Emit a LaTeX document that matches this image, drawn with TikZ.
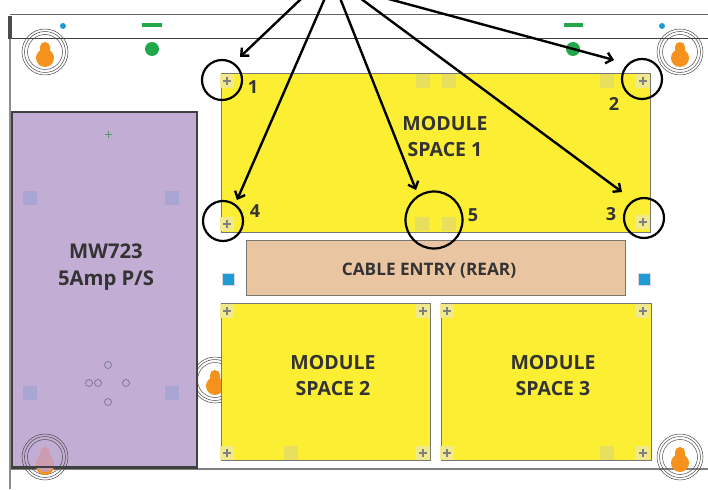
\documentclass[tikz,border=0pt]{standalone}
\usepackage{fontspec}
\setmainfont{Open Sans}
\usetikzlibrary{arrows.meta}
\definecolor{yel}{HTML}{FCEE33}
\definecolor{yelsq}{HTML}{E9DF5E}
\definecolor{purp}{HTML}{C2ADD4}
\definecolor{purpsq}{HTML}{A9A6D3}
\definecolor{peach}{HTML}{EAC5A2}
\definecolor{orng}{HTML}{F5921E}
\definecolor{pinkhole}{HTML}{CC9DB0}
\definecolor{grn}{HTML}{22A84A}
\definecolor{blu}{HTML}{1F9AD6}
\definecolor{edge}{HTML}{77776F}
\definecolor{txt}{HTML}{333333}
\tikzset{
  x=1pt,y=-1pt,
  module/.style={fill=yel,draw=edge,line width=1.3pt},
  ysq/.style={fill=yelsq,draw=none},
  psq/.style={fill=purpsq,draw=none},
  ring/.style={draw=black!70,line width=.5pt,fill=none},
  mark circle/.style={circle,draw=black,line width=2.2pt,fill=none,inner sep=0pt,minimum size=#1},
  callout/.style={draw=black,line width=2.4pt,-{Straight Barb[length=6pt,width=11pt,line width=2.4pt]}},
  lab/.style={text=txt,font=\bfseries\fontsize{19.5}{26}\selectfont,align=center,inner sep=0pt},
  numlab/.style={text=txt,font=\bfseries\fontsize{18}{20}\selectfont,inner sep=0pt},
}
\newcommand{\keyrings}[2]{%
  \draw[ring] (#1,#2) circle[radius=23];
  \draw[ring] (#1,#2) circle[radius=20.5];
  \draw[ring] (#1,#2) circle[radius=17.5];
}
\newcommand{\keybody}[3]{% x, y, colour
  \fill[#3] (#1,#2-5) circle[radius=5];
  \fill[#3] (#1,#2+6) circle[radius=9];
  \fill[#3] (#1-5,#2-5) -- (#1+5,#2-5) -- (#1+5,#2-1)
     .. controls (#1+5,#2+1) and (#1+8,#2+2) .. (#1+9,#2+6)
     -- (#1-9,#2+6)
     .. controls (#1-8,#2+2) and (#1-5,#2+1) .. (#1-5,#2-1) -- cycle;
}
\newcommand{\keyholeshape}[3]{\keyrings{#1}{#2}\keybody{#1}{#2}{#3}}
\newcommand{\ysquare}[2]{\fill[ysq] (#1-7,#2-7) rectangle (#1+7,#2+7);}
\newcommand{\plusmark}[2]{%
  \fill[yelsq!70!white] (#1-7,#2-7) rectangle (#1+7,#2+7);
  \draw[black!50,line width=1.6pt] (#1-4,#2) -- (#1+4,#2) (#1,#2-4) -- (#1,#2+4);
}
\begin{document}
\begin{tikzpicture}
\useasboundingbox (0,0) rectangle (708,489);
\clip (0,0) rectangle (708,489);
\fill[white] (0,0) rectangle (708,489);
% enclosure
\draw[black!60,line width=1pt] (10,15) -- (708,15);
\draw[black!75,line width=1pt] (10,39) -- (708,39);
\draw[black!45,line width=2.5pt] (10,39) -- (10,489);
\fill[black!70] (8,16) rectangle (12,39);
\draw[black!50,line width=1.5pt] (10,469) -- (708,469);
% keyholes below modules
\keyholeshape{45}{52}{orng}
\keyholeshape{680}{52}{orng}
\keyholeshape{215}{380}{orng}
\keyholeshape{680}{457}{orng}
% top marks
\fill[grn] (142,23) rectangle (162,27);
\fill[grn] (564,23) rectangle (583,27);
\fill[grn] (152,49) circle[radius=7];
\fill[grn] (573,49) circle[radius=7];
\fill[blu] (63,26) circle[radius=3];
\fill[blu] (662,26) circle[radius=3];
% power supply
\node[draw=black!75,line width=2pt,fill=purp,minimum width=185pt,minimum height=356pt,inner sep=0pt,anchor=north west] (psu) at (11,111) {};
\node[lab,font=\bfseries\fontsize{20.3}{27}\selectfont] (psutext) at (106,267.5) {MW723\\5Amp P/S};
\fill[psq] (23,191) rectangle (37,205);
\fill[psq] (165,191) rectangle (179,205);
\fill[psq] (23,386) rectangle (37,400);
\fill[psq] (165,386) rectangle (179,400);
\draw[grn!60!black!70,line width=1pt] (104.5,135) -- (111.5,135) (108,131.5) -- (108,138.5);
\foreach \px/\py in {108/365,89/383,98/383,126/383,108/402}
  \draw[purpsq!70!black,line width=.7pt] (\px,\py) circle[radius=3.5];
% keyhole seen through the power supply
\keyrings{45}{457}
\keybody{45}{460}{orng}
\keybody{45}{457}{pinkhole}
\draw[black!75,line width=2pt] (11,467) -- (196,467);
% modules
\node[module,minimum width=429pt,minimum height=159pt,inner sep=0pt,anchor=north west] (m1) at (221,73) {};
\node[module,minimum width=209pt,minimum height=157pt,inner sep=0pt,anchor=north west] (m2) at (221,303) {};
\node[module,minimum width=210pt,minimum height=157pt,inner sep=0pt,anchor=north west] (m3) at (441,303) {};
\node[draw=edge,line width=1.3pt,fill=peach,minimum width=379pt,minimum height=55pt,inner sep=0pt,anchor=north west] (cable) at (246,240) {};
\node[text=txt,font=\bfseries\fontsize{17.2}{20}\selectfont,inner sep=0pt] (cabletext) at (429,271) {CABLE ENTRY (REAR)};
\node[lab] (m1text) at (445,137) {MODULE\\SPACE 1};
\node[lab] (m2text) at (333,376) {MODULE\\SPACE 2};
\node[lab] (m3text) at (553,376) {MODULE\\SPACE 3};
\fill[blu,draw=black!15] (222,273) rectangle (234,285);
\fill[blu,draw=black!15] (638,273) rectangle (650,285);
% pads
\ysquare{423}{81}\ysquare{449}{81}\ysquare{607}{81}
\ysquare{422}{224}\ysquare{449}{224}
\ysquare{291}{453}\ysquare{607}{453}
\plusmark{227}{81}\plusmark{643}{81}\plusmark{227}{224}\plusmark{643}{222}
\plusmark{227}{311}\plusmark{423}{311}\plusmark{227}{453}\plusmark{423}{453}
\plusmark{447}{311}\plusmark{643}{311}\plusmark{447}{453}\plusmark{643}{453}
% call-out circles and numbers
\node[mark circle=40pt] (c1) at (222,80) {};
\node[mark circle=40pt] (c2) at (642,79) {};
\node[mark circle=40pt] (c3) at (644,218) {};
\node[mark circle=40pt] (c4) at (223,221) {};
\node[mark circle=57pt] (c5) at (434,220) {};
\node[numlab] (n1) at (253,87) {1};
\node[numlab] (n2) at (614,104) {2};
\node[numlab] (n3) at (611,214) {3};
\node[numlab] (n4) at (255,211) {4};
\node[numlab] (n5) at (473,215) {5};
% call-out arrows
\coordinate (s1) at (302,-2);
\coordinate (s4) at (325,-2);
\coordinate (s5) at (340,-2);
\coordinate (s3) at (360,-2);
\coordinate (s2) at (385,-2);
\coordinate (t1) at (240,57);
\coordinate (t2) at (614,60);
\coordinate (t3) at (622,192);
\coordinate (t4) at (237,200);
\coordinate (t5) at (416,190);
\draw[callout] (s1) -- (t1);
\draw[callout] (s4) -- (t4);
\draw[callout] (s5) -- (t5);
\draw[callout] (s3) -- (t3);
\draw[callout] (s2) -- (t2);
\end{tikzpicture}
\end{document}
